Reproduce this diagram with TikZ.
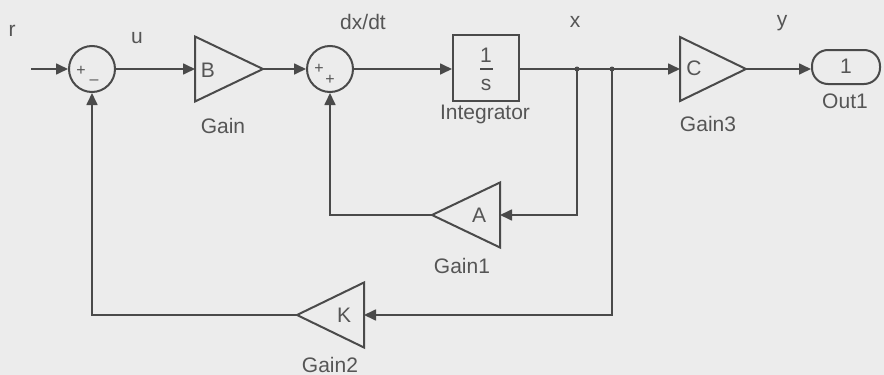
\documentclass[tikz,border=0pt]{standalone}
\usepackage{fontspec}
\setmainfont{Liberation Sans}
\usetikzlibrary{arrows.meta}
\definecolor{ink}{HTML}{4A4A4A}
\definecolor{txt}{HTML}{555555}
\definecolor{bg}{HTML}{ECECEC}
\begin{document}
\begin{tikzpicture}[x=1pt,y=-1pt,
  wire/.style={draw=ink,line width=1.7pt},
  arr/.style={wire,-{Triangle[length=12pt,width=11pt]}},
  blk/.style={draw=ink,line width=2pt,line join=miter},
  lbl/.style={text=txt,font=\fontsize{21}{25}\selectfont,inner sep=0pt,anchor=base},
  sgn/.style={text=txt,font=\fontsize{16}{18}\selectfont,inner sep=0pt},
  sumblk/.style={circle,draw=ink,line width=2pt,minimum size=46pt,inner sep=0pt},
  intblk/.style={rectangle,draw=ink,line width=2pt,minimum width=66pt,minimum height=66pt,inner sep=0pt},
  outblk/.style={rectangle,rounded corners=16pt,draw=ink,line width=2pt,minimum width=68pt,minimum height=34pt,inner sep=0pt},
  dot/.style={circle,fill=ink,inner sep=0pt,minimum size=5pt}
]
\fill[bg] (0,0) rectangle (884,375);
\useasboundingbox (0,0) rectangle (884,375);

% blocks
\node[sumblk] (s1) at (92,69) {};
\node[sgn] (s1p) at (81,71) {+};
\node[sgn] (s1m) at (94,82) {–};
\node[sumblk] (s2) at (330,69) {};
\node[sgn] (s2p) at (319,69) {+};
\node[sgn] (s2q) at (330,80) {+};
\node[intblk] (int) at (486,68) {};
\node[lbl] (one) at (486,62) {1};
\node[lbl] (ess) at (486,90) {s};
\coordinate (barl) at (480,69);
\coordinate (barr) at (493,69);
\draw[draw=ink,line width=1.2pt] (barl) -- (barr);
\node[outblk] (out) at (846,67) {};
\node[lbl] (outone) at (846,73) {1};

% gain triangles (input/output coordinates)
\coordinate (gBin) at (195,69);  \coordinate (gBout) at (263,69);
\coordinate (g3in) at (680,69);  \coordinate (g3out) at (746,69);
\coordinate (g1in) at (500,215); \coordinate (g1out) at (432,215);
\coordinate (g2in) at (364,315); \coordinate (g2out) at (297,315);
\draw[blk] ([yshift=32.5pt]gBin) -- (gBout) -- ([yshift=-32.5pt]gBin) -- cycle;
\draw[blk] ([yshift=32pt]g3in) -- (g3out) -- ([yshift=-32pt]g3in) -- cycle;
\draw[blk] ([yshift=32.5pt]g1in) -- (g1out) -- ([yshift=-32.5pt]g1in) -- cycle;
\draw[blk] ([yshift=32.5pt]g2in) -- (g2out) -- ([yshift=-32.5pt]g2in) -- cycle;
\node[lbl] (tB) at (208,77) {B};
\node[lbl] (tC) at (694,75) {C};
\node[lbl] (tA) at (479,222) {A};
\node[lbl] (tK) at (344,322) {K};

% branch points
\coordinate (b1) at (577,69);
\coordinate (b2) at (612,69);
\coordinate (rin) at (31,69);

% connectors
\draw[arr] (rin) -- (s1.west);
\draw[arr] (s1.east) -- (gBin);
\draw[arr] (gBout) -- (s2.west);
\draw[arr] (s2.east) -- (s2.east -| int.west);
\draw[arr] (int.east |- g3in) -- (g3in);
\draw[arr] (g3out) -- (g3out -| out.west);
\draw[arr] (b1) |- (g1in);
\draw[arr] (g1out) -| (s2.south);
\draw[arr] (b2) |- (g2in);
\draw[arr] (g2out) -| (s1.south);
\node[dot] (d1) at (b1) {};
\node[dot] (d2) at (b2) {};

% labels
\node[lbl] (lr) at (12,36) {r};
\node[lbl] (lu) at (137,43) {u};
\node[lbl] (ldx) at (363,29) {dx/dt};
\node[lbl] (lx) at (575,27) {x};
\node[lbl] (ly) at (782,26) {y};
\node[lbl] (lgain) at (223,133) {Gain};
\node[lbl] (lint) at (485,119) {Integrator};
\node[lbl] (lg3) at (708,131) {Gain3};
\node[lbl] (lout) at (845,108) {Out1};
\node[lbl] (lg1) at (462,273) {Gain1};
\node[lbl] (lg2) at (330,372) {Gain2};
\end{tikzpicture}
\end{document}
